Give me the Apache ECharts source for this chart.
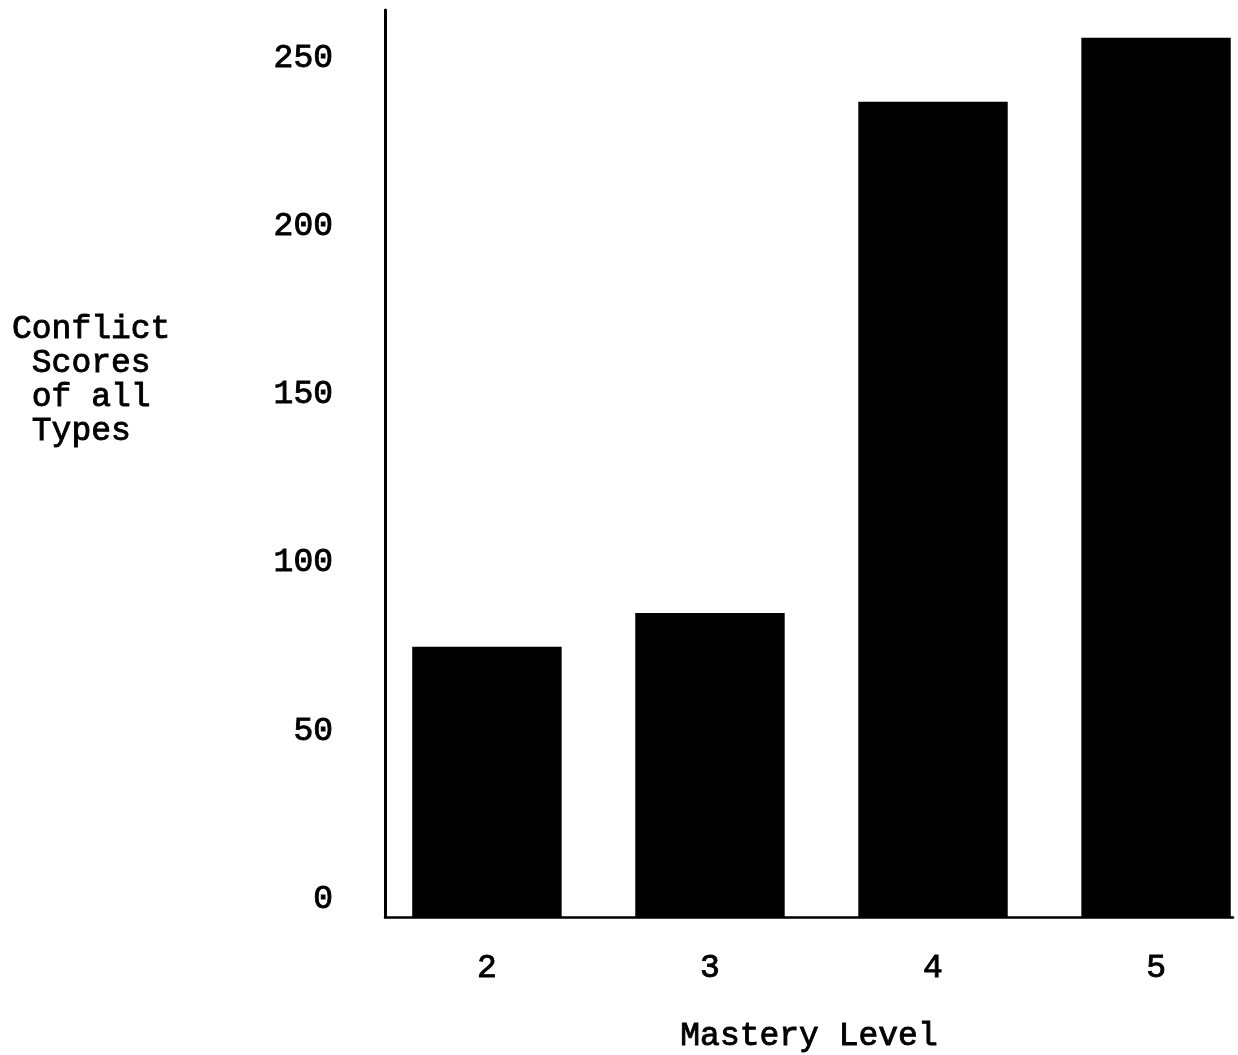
<!DOCTYPE html>
<html>
<head>
<meta charset="utf-8">
<script src="https://cdn.jsdelivr.net/npm/echarts@6/dist/echarts.min.js"></script>
<style>
html,body{margin:0;padding:0;background:#fff;}
#chart{width:1238px;height:1055px;}
</style>
</head>
<body>
<div id="chart"></div>
<script>
const categories = [2, 3, 4, 5];
const conflictScores = [75, 85, 237, 256];
const yTickLabels = [0, 50, 100, 150, 200, 250];
const xTickLabels = [2, 3, 4, 5];
const yAxisTitle = 'Conflict\n Scores\n of all\n Types';
const xAxisTitle = 'Mastery Level';

const FONT = '"Liberation Mono", "DejaVu Sans Mono", monospace';
const TXT = { fontFamily: FONT, fontSize: 33, fontWeight: 'normal', color: '#000', textBorderColor: '#000', textBorderWidth: 0.9 };
const yMin = -5.35, yMax = 264.25;
const xMin = 1.543, xMax = 5.345;
const barUnits = 0.67;

const chart = echarts.init(document.getElementById('chart'));
chart.setOption({
  backgroundColor: '#ffffff',
  animation: false,
  title: {
    text: yAxisTitle,
    left: 12,
    top: 312,
    padding: 0,
    textStyle: Object.assign({ lineHeight: 34 }, TXT)
  },
  grid: { left: 385, right: 5, top: 10, bottom: 138, outerBoundsMode: 'none', containLabel: false },
  xAxis: {
    type: 'value',
    min: xMin, max: xMax,
    splitLine: { show: false },
    axisTick: { show: false },
    axisLine: { show: true, onZero: false, lineStyle: { color: '#000', width: 2.5 } },
    axisLabel: Object.assign({ customValues: xTickLabels, margin: 35 }, TXT),
    name: xAxisTitle,
    nameLocation: 'middle',
    nameGap: 103,
    nameTextStyle: TXT
  },
  yAxis: {
    type: 'value',
    min: yMin, max: yMax,
    splitLine: { show: false },
    axisTick: { show: false },
    axisLine: { show: true, onZero: false, lineStyle: { color: '#000', width: 3 } },
    axisLabel: Object.assign({ customValues: yTickLabels, margin: 52 }, TXT)
  },
  series: [{
    type: 'custom',
    data: categories.map((c, i) => [c, conflictScores[i]]),
    renderItem: function (params, api) {
      const x = api.value(0), v = api.value(1);
      const top = api.coord([x, v]);
      const bottom = api.coord([x, yMin]);
      const w = api.size([barUnits, 0])[0];
      return {
        type: 'rect',
        shape: { x: top[0] - w / 2, y: top[1], width: w, height: bottom[1] - top[1] },
        style: { fill: '#000' }
      };
    }
  }]
});
</script>
</body>
</html>
